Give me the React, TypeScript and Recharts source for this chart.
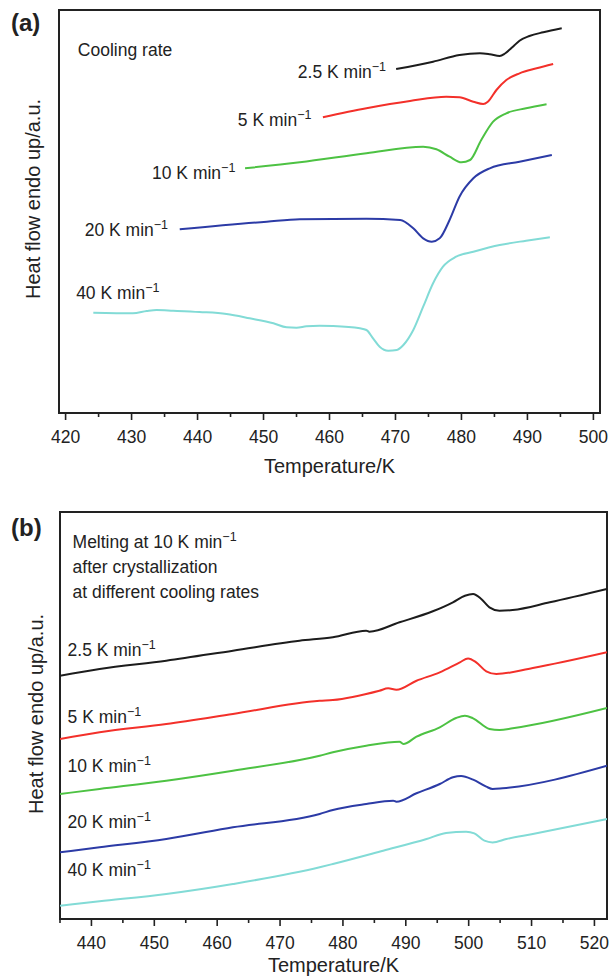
import React from "react";
import {
  LineChart,
  Line,
  XAxis,
  YAxis,
  ReferenceArea,
  ReferenceDot,
} from "recharts";

// (a) cooling scans: [temperature K, heat flow a.u.]
const cool25: [number, number][] = [
  [470.1, 344], [475.7, 351.3], [479.7, 358], [482.8, 359.7], [484.3, 358.7],
  [485.8, 357], [486.6, 359.5], [487.8, 366.3], [488.8, 372.3], [490.3, 377],
  [492.4, 380.7], [495.2, 384.7],
];
const cool5: [number, number][] = [
  [459.0, 295.7], [465.6, 304.7], [472.2, 312], [477.7, 316.3], [479.7, 315.7],
  [481.8, 311.3], [483.3, 309], [484.0, 311.3], [485.3, 323], [486.8, 333],
  [488.8, 339.7], [491.4, 344.7], [493.9, 349],
];
const cool10: [number, number][] = [
  [447.2, 244.7], [455.5, 250.7], [465.6, 259.7], [474.2, 266.3], [476.2, 263.7],
  [478.2, 256.3], [480.0, 250.7], [481.3, 253], [483.0, 273], [484.8, 291.3],
  [486.8, 299.7], [489.8, 304.7], [492.9, 308.7],
];
const cool20: [number, number][] = [
  [437.3, 183.7], [450.5, 191.3], [455.5, 193.7], [465.6, 194.3], [470.7, 193],
  [472.7, 184.7], [474.2, 174.7], [475.5, 171.3], [476.7, 174.7], [478.2, 193],
  [479.7, 216.3], [481.8, 234.7], [484.3, 244.7], [488.8, 251.3], [493.7, 258],
];
const cool40: [number, number][] = [
  [424.2, 100.3], [430.2, 99.7], [432.3, 102], [433.8, 103], [436.3, 102.3],
  [440.3, 101], [444.4, 99], [447.9, 94.7], [451.5, 89.7], [453.5, 85.7],
  [455.0, 85.3], [456.5, 86.7], [458.5, 87.3], [460.5, 87], [464.6, 84.7],
  [465.6, 83], [466.6, 74.7], [467.6, 66.3], [468.9, 62.3], [470.2, 63],
  [471.2, 68], [472.7, 83], [474.2, 106.3], [475.7, 129.7], [477.2, 146.3],
  [479.2, 156.3], [481.8, 161.3], [485.8, 168], [489.8, 172.3], [493.4, 175.7],
];

// (b) melting scans
const melt25: [number, number][] = [
  [435, 243.3], [441.3, 250], [451.9, 258.3], [462.5, 268.3], [473.1, 278.3],
  [478.4, 281.7], [483.7, 288.3], [484.2, 287.3], [489.0, 296.7], [494.3, 307.7],
  [497.5, 316.7], [499.4, 323.3], [500.7, 325], [502.0, 320], [503.3, 311.7],
  [504.9, 308.3], [507.0, 309], [512.9, 316.7], [522, 330],
];
const melt5: [number, number][] = [
  [435, 180], [441.3, 186.7], [451.9, 195], [462.5, 205], [476.3, 218.3],
  [478.4, 219], [485.8, 228.3], [487.2, 230.7], [488.5, 229.3], [491.7, 238.3],
  [495.4, 246.7], [498.6, 256.7], [499.9, 260.6], [501.2, 256.7], [502.8, 247.7],
  [504.4, 245], [510.2, 251], [522, 266.7],
];
const melt10: [number, number][] = [
  [435, 125], [441.3, 130], [451.9, 138.3], [462.5, 148.3], [476.3, 163.3],
  [478.4, 166.7], [483.7, 173.3], [489.0, 177.3], [489.6, 175], [491.7, 182.3],
  [495.4, 191.7], [498.0, 201], [499.4, 203.3], [500.7, 200.7], [503.3, 190],
  [504.9, 189], [507.0, 190.7], [522, 211],
];
const melt20: [number, number][] = [
  [435, 66.7], [441.3, 71.7], [451.9, 80], [462.5, 91.7], [476.3, 105],
  [478.4, 109], [483.7, 115], [488.0, 118.3], [488.5, 117.3], [491.7, 125.7],
  [495.4, 135], [497.5, 141.7], [498.8, 143], [500.7, 139.3], [502.8, 132.3],
  [503.8, 130], [505.4, 130.7], [522, 153.3],
];
const melt40: [number, number][] = [
  [435, 13.3], [441.3, 17.7], [451.9, 25], [462.5, 35], [476.3, 51.7],
  [478.4, 55], [486.4, 68.3], [493.3, 80], [496.4, 86], [499.6, 87.3],
  [500.9, 85.6], [502.5, 78.3], [503.8, 76.6], [506.0, 80], [510.2, 85],
  [522, 100],
];

const ticksA = [420, 425, 430, 435, 440, 445, 450, 455, 460, 465, 470, 475, 480, 485, 490, 495, 500];
const ticksB = [435, 440, 445, 450, 455, 460, 465, 470, 475, 480, 485, 490, 495, 500, 505, 510, 515, 520];

const rateNames = ["2.5", "5", "10", "20", "40"];
const colors = ["#1c1c1c", "#f3302a", "#4dc243", "#2c3ba6", "#82dbd6"];

// label anchors [T, value] for the rate names
const labelPosA: [number, number][] = [
  [455.2, 335], [446.1, 287], [433.1, 234], [422.9, 177], [421.6, 114],
];
const labelPosB: [number, number][] = [
  [436.2, 263], [436.2, 196], [436.2, 147], [436.2, 91], [436.2, 43],
];
const noteB = ["after crystallization", "at different cooling rates"];

const ink = "#222";
const toRows = (pts: [number, number][]) => pts.map(([t, v]) => ({ t, v }));

function AxisTick(props: any) {
  const { x, y, payload } = props;
  const major = payload.value % 10 === 0;
  return (
    <g>
      <line x1={x} x2={x} y1={y} y2={y + (major ? 7 : 4)} stroke={ink} strokeWidth={1.6} />
      {major && (
        <text x={x} y={y + 30} textAnchor="middle" fontSize={17.5} fill={ink}>
          {payload.value}
        </text>
      )}
    </g>
  );
}

const rateText = (name: string) => (p: any) => (
  <text x={p.cx} y={p.cy} fontSize={17.5} fill={ink}>
    <tspan>{name} K min</tspan>
    <tspan dy={-7} fontSize={12.5}>−1</tspan>
  </text>
);

const plainText = (s: string) => (p: any) => (
  <text x={p.cx} y={p.cy} fontSize={17.5} fill={ink}>
    {s}
  </text>
);

const coolSeries = [cool25, cool5, cool10, cool20, cool40];
const meltSeries = [melt25, melt5, melt10, melt20, melt40];

export default function App() {
  return (
    <div style={{ position: "absolute", left: 0, top: 0, width: 611, height: 977, fontFamily: "'Liberation Sans', Arial, sans-serif", background: "#fff" }}>
      <div style={{ position: "absolute", left: 0, top: 0 }}>
        <LineChart width={611} height={480} margin={{ top: 10, right: 11, bottom: 0, left: 0 }}>
          <XAxis
            type="number"
            dataKey="t"
            domain={[419, 501]}
            ticks={ticksA}
            interval={0}
            allowDataOverflow
            height={67}
            tickSize={0}
            tickMargin={0}
            axisLine={false}
            tickLine={false}
            tick={<AxisTick />}
            label={{ value: "Temperature/K", position: "insideBottom", offset: 7, fontSize: 20, fill: ink }}
          />
          <YAxis type="number" dataKey="v" domain={[0, 403]} width={59} tick={false} axisLine={false} tickLine={false} allowDataOverflow />
          <ReferenceArea x1={419} x2={501} y1={0} y2={403} fill="none" stroke={ink} strokeWidth={2} />
          {coolSeries.map((s, i) => (
            <Line
              key={rateNames[i]}
              data={toRows(s)}
              dataKey="v"
              type="monotone"
              stroke={colors[i]}
              strokeWidth={2}
              dot={false}
              isAnimationActive={false}
            />
          ))}
          <ReferenceDot x={421.86} y={357} r={0} shape={plainText("Cooling rate")} />
          {labelPosA.map(([t, v], i) => (
            <ReferenceDot key={"la" + i} x={t} y={v} r={0} shape={rateText(rateNames[i])} />
          ))}
        </LineChart>
      </div>
      <div style={{ position: "absolute", left: 0, top: 480 }}>
        <LineChart width={611} height={497} margin={{ top: 32, right: 4, bottom: 0, left: 0 }}>
          <XAxis
            type="number"
            dataKey="t"
            domain={[435, 522]}
            ticks={ticksB}
            interval={0}
            allowDataOverflow
            height={58}
            tickSize={0}
            tickMargin={0}
            axisLine={false}
            tickLine={false}
            tick={<AxisTick />}
            label={{ value: "Temperature/K", position: "insideBottom", offset: 5, fontSize: 20, fill: ink }}
          />
          <YAxis type="number" dataKey="v" domain={[0, 407]} width={60} tick={false} axisLine={false} tickLine={false} allowDataOverflow />
          <ReferenceArea x1={435} x2={522} y1={0} y2={407} fill="none" stroke={ink} strokeWidth={2} />
          {meltSeries.map((s, i) => (
            <Line
              key={rateNames[i]}
              data={toRows(s)}
              dataKey="v"
              type="monotone"
              stroke={colors[i]}
              strokeWidth={2}
              dot={false}
              isAnimationActive={false}
            />
          ))}
          <ReferenceDot
            x={437.0}
            y={371}
            r={0}
            shape={(p: any) => (
              <text x={p.cx} y={p.cy} fontSize={17.5} fill={ink}>
                <tspan>Melting at 10 K min</tspan>
                <tspan dy={-7} fontSize={12.5}>−1</tspan>
              </text>
            )}
          />
          <ReferenceDot x={437.0} y={346} r={0} shape={plainText(noteB[0])} />
          <ReferenceDot x={437.0} y={321} r={0} shape={plainText(noteB[1])} />
          {labelPosB.map(([t, v], i) => (
            <ReferenceDot key={"lb" + i} x={t} y={v} r={0} shape={rateText(rateNames[i])} />
          ))}
        </LineChart>
      </div>
      <svg width={611} height={977} style={{ position: "absolute", left: 0, top: 0, pointerEvents: "none" }}>
        <text x={11} y={31} fontSize={24} fontWeight="bold" fill={ink}>(a)</text>
        <text x={11} y={536} fontSize={24} fontWeight="bold" fill={ink}>(b)</text>
        <text transform="translate(33,199) rotate(-90)" textAnchor="middle" dominantBaseline="central" fontSize={20} fill={ink}>
          Heat flow endo up/a.u.
        </text>
        <text transform="translate(36,714) rotate(-90)" textAnchor="middle" dominantBaseline="central" fontSize={20} fill={ink}>
          Heat flow endo up/a.u.
        </text>
      </svg>
    </div>
  );
}
